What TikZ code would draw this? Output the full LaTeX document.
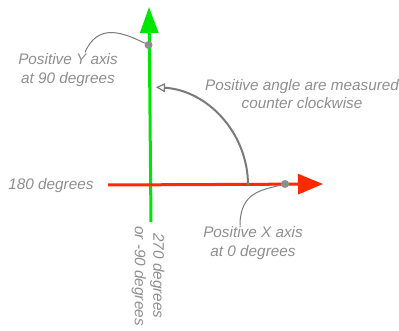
\documentclass[tikz,border=0pt]{standalone}
\usepackage{fontspec}
\setmainfont{Liberation Sans}
\usepackage{tikz}
\usetikzlibrary{positioning,arrows.meta}
\definecolor{yaxis}{HTML}{00E600}
\definecolor{xaxis}{HTML}{FF2A00}
\definecolor{note}{HTML}{8E8E8E}
\definecolor{lead}{HTML}{7A7A7A}
\tikzset{
  label/.style={text=note,align=center,inner sep=1pt,font=\itshape\fontsize{15.3}{18.5}\selectfont},
  pin/.style={circle,fill=note,inner sep=0pt,minimum size=8pt},
  leader/.style={draw=lead,line width=1pt},
}
\begin{document}
\begin{tikzpicture}[x=1pt,y=-1pt]
\useasboundingbox (0,0) rectangle (399,331);
\coordinate (O) at (150,185);
% axes
\coordinate (ybot) at (151,222);
\coordinate (ytop) at (149,7);
\coordinate (xleft) at (108,185);
\coordinate (xright) at (323,184);
\draw[yaxis,line width=3pt,-{Triangle[length=26pt,width=18pt]}] (ybot) -- (ytop);
\draw[xaxis,line width=3pt,-{Triangle[length=25pt,width=20pt]}] (xleft) -- (xright);
% angle arc
\coordinate (arcstart) at ([xshift=98pt]O);
\draw[lead,line width=2pt,-{Triangle[open,length=9pt,width=9pt,line width=1.2pt]}]
  (arcstart) arc[start angle=0,end angle=-86.5,radius=98];
% pins
\node[pin] (ydot) at (148.5,45) {};
\node[pin] (xdot) at (285,184) {};
% labels
\node[label] (ylab) at (68,70) {Positive Y axis\\at 90 degrees};
\node[label] (xlab) at (253,243) {Positive X axis\\at 0 degrees};
\node[label] (alab) at (302,94) {Positive angle are measured\\counter clockwise};
\node[label] (left) at (51,186) {180 degrees};
\node[label,rotate=-90] (down) at (148,276) {270 degrees\\or -90 degrees};
% leaders
\draw[leader] (ydot) .. controls (124,33) and (98,22) .. ([xshift=17pt]ylab.north);
\draw[leader] (xdot) .. controls (262,190) and (240,192) .. ([xshift=-13pt]xlab.north);
\end{tikzpicture}
\end{document}
